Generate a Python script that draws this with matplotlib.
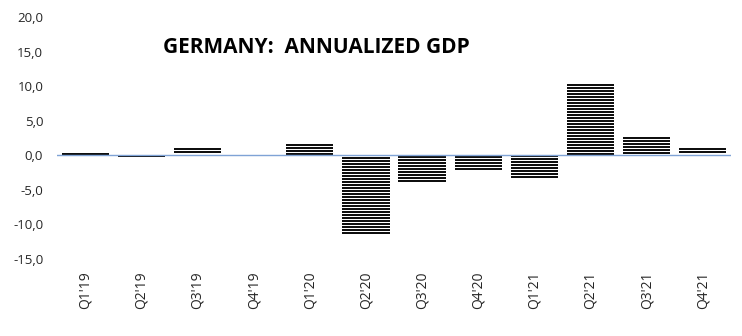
import matplotlib.pyplot as plt
import matplotlib.ticker as mticker
import numpy as np

quarters = ["Q1'19", "Q2'19", "Q3'19", "Q4'19", "Q1'20", "Q2'20",
            "Q3'20", "Q4'20", "Q1'21", "Q2'21", "Q3'21", "Q4'21"]
gdp = [0.4, -0.2, 1.0, 0.0, 1.6, -11.3, -3.8, -2.1, -3.3, 10.3, 2.7, 1.0]
y_ticks = [-15, -10, -5, 0, 5, 10, 15, 20]

plt.rcParams['font.family'] = ['Open Sans', 'DejaVu Sans']

fig = plt.figure(figsize=(7.42, 3.36), dpi=100)
ax = fig.add_axes([0.077, 0.229, 0.908, 0.72])

x = np.arange(len(quarters))
width = 0.84
bars = ax.bar(x, gdp, width=width, color='white', linewidth=0, zorder=2)

# horizontal stripes inside each bar, starting at the bar's end
pitch = 0.434      # stripe spacing in data units (~3 px)
half = 0.14        # half stripe thickness in data units
for xi, v in zip(x, gdp):
    if v == 0:
        continue
    s = np.sign(v)
    ys = []
    c = v - s * half
    while s * c > 0:
        ys.append(c)
        c -= s * pitch
    ax.hlines(ys, xi - width / 2, xi + width / 2, color='black', linewidth=1.35, zorder=2.5)

ax.axhline(0, color='#7FA3D6', linewidth=1.0, zorder=3)

ax.set_xlim(-0.5, len(quarters) - 0.5)
ax.set_ylim(-15, 20)
ax.set_yticks(y_ticks)
ax.yaxis.set_major_formatter(mticker.FuncFormatter(lambda v, p: f"{v:.1f}".replace('.', ',')))
ax.set_xticks(x)
ax.set_xticklabels(quarters, rotation=90)
ax.tick_params(axis='y', length=0, pad=10, labelsize=9.5, labelcolor='#262626')
ax.tick_params(axis='x', length=0, pad=9, labelsize=10, labelcolor='#262626')
for s in ax.spines.values():
    s.set_visible(False)

fig.text(0.22, 0.86, "GERMANY:  ANNUALIZED GDP", fontsize=15, fontweight='bold',
         ha='left', va='center', color='black')

fig.savefig('out.png', dpi=100)
